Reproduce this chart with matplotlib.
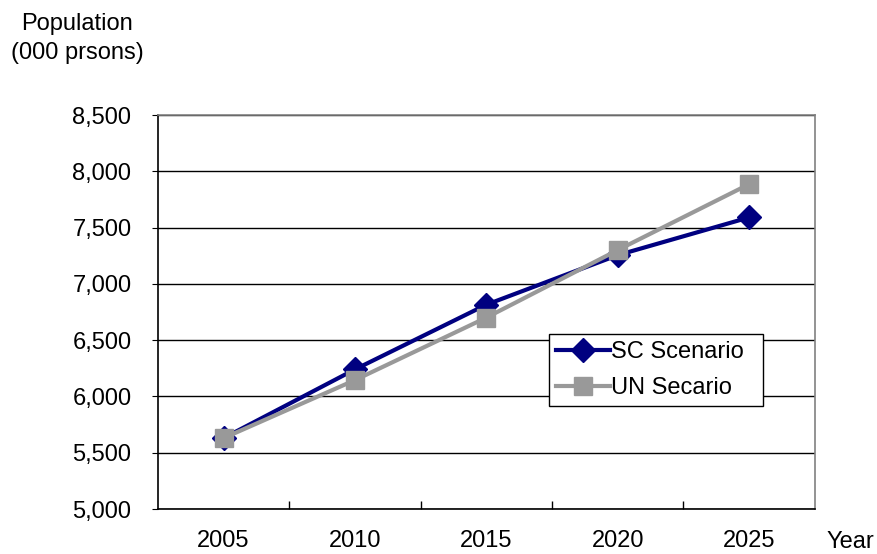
import matplotlib.pyplot as plt
from matplotlib.ticker import FuncFormatter, FixedLocator

years = ["2005", "2010", "2015", "2020", "2025"]
sc_scenario = [5630, 6240, 6815, 7255, 7590]
un_scenario = [5630, 6145, 6700, 7300, 7885]

plt.rcParams['font.family'] = ['Liberation Sans', 'DejaVu Sans']

fig = plt.figure(figsize=(8.77, 5.54), dpi=100)
ax = fig.add_axes([0.180, 0.0812, 0.749, 0.7112])

x = list(range(len(years)))
ax.plot(x, sc_scenario, color="#000080", lw=3, marker="D", ms=12,
        label="SC Scenario", zorder=3)
ax.plot(x, un_scenario, color="#999999", lw=3, marker="s", ms=13,
        label="UN Secario", zorder=4)

ax.set_xlim(-0.5, len(years) - 0.5)
ax.set_ylim(5000, 8500)
ax.set_yticks(range(5000, 8501, 500))
ax.yaxis.set_major_formatter(FuncFormatter(lambda v, _: f"{int(v):,}"))
ax.grid(axis="y", color="black", lw=1)
ax.set_axisbelow(True)

ax.set_xticks(x)
ax.set_xticklabels(years)
ax.xaxis.set_minor_locator(FixedLocator([i + 0.5 for i in range(len(years) - 1)]))
ax.tick_params(axis="x", which="major", length=0, pad=15, labelsize=17)
ax.tick_params(axis="x", which="minor", direction="in", length=6, width=1)
ax.tick_params(axis="y", direction="out", length=4, pad=15, labelsize=17)

for s in ["top", "right"]:
    ax.spines[s].set_color("#808080")
for s in ["left", "bottom"]:
    ax.spines[s].set_color("black")
for s in ax.spines.values():
    s.set_linewidth(1.2)

fig.text(0.088, 0.93, "Population\n(000 prsons)", ha="center", va="center",
         fontsize=17, linespacing=1.4)
fig.text(0.942, 0.021, "Year", ha="left", va="center", fontsize=17)

leg = ax.legend(loc="lower left", bbox_to_anchor=(0.595, 0.261, 0.326, 0.183),
                mode="expand", fontsize=17, frameon=True, fancybox=False,
                edgecolor="black", framealpha=1, borderpad=0.3,
                handlelength=2.3, handletextpad=0.05, labelspacing=0.6,
                borderaxespad=0)
leg.get_frame().set_linewidth(1)

fig.savefig("out.png", dpi=100)
